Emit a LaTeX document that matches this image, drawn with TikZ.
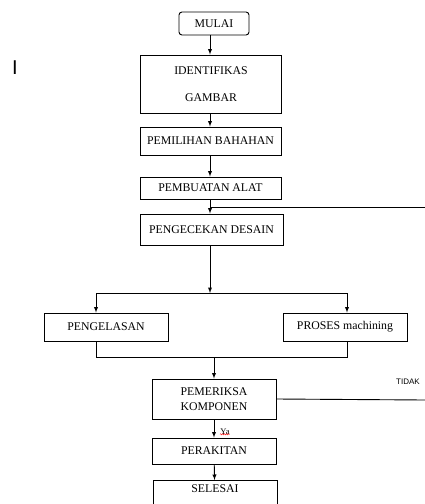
\documentclass[tikz,border=0pt]{standalone}
\usepackage{fontspec}
\setmainfont{Liberation Serif}
\setsansfont{Liberation Sans}
\usetikzlibrary{arrows}
\usetikzlibrary{positioning}
\usetikzlibrary{decorations.pathmorphing}

\begin{document}
\begin{tikzpicture}[x=1pt,y=-1pt,->,>=latex,line width=0.9pt,
  main box/.style={draw,rectangle,inner sep=0pt,align=center,font=\fontsize{11.8}{13}\selectfont},
  start box/.style={main box,rounded corners=3pt}]
  \useasboundingbox (0,0) rectangle (425,504);

  \node[font=\sffamily\fontsize{20}{20}\selectfont] (cursor) at (15,68) {I};

  \node[start box,minimum width=70,minimum height=23] (mulai) at (214,23.5) {MULAI};
  \node[main box,minimum width=141,minimum height=58,font=\fontsize{11.8}{27}\selectfont] (ident) at (211,84) {IDENTIFIKAS\\GAMBAR};
  \node[main box,minimum width=141,minimum height=28] (pilih) at (210.5,141) {PEMILIHAN BAHAHAN};
  \node[main box,minimum width=141,minimum height=22] (buat) at (210.5,188) {PEMBUATAN ALAT};
  \node[main box,minimum width=143,minimum height=31] (cek) at (211.5,229.5) {PENGECEKAN DESAIN};
  \node[main box,minimum width=124,minimum height=28] (las) at (106,327) {PENGELASAN};
  \node[main box,minimum width=124,minimum height=28] (proses) at (345,327) {PROSES machining};
  \node[main box,minimum width=124,minimum height=40,font=\fontsize{11.8}{15}\selectfont] (periksa) at (214,399) {PEMERIKSA\\KOMPONEN};
  \node[main box,minimum width=124,minimum height=26] (rakit) at (214,451) {PERAKITAN};
  \node[main box,minimum width=124,anchor=north,inner ysep=4pt,text depth=30pt] (selesai) at (215,480) {SELESAI};

  \node[font=\sffamily\fontsize{8}{9}\selectfont] (tidak) at (408,382) {TIDAK};
  \node[font=\fontsize{8.5}{9}\selectfont,inner sep=0pt] (ya) at (225,432) {Ya};
  \draw[-,red,line width=0.4pt,decorate,decoration={snake,amplitude=0.6pt,segment length=2pt}]
    ([yshift=1pt]ya.south west) -- ([yshift=1pt]ya.south east);

  \coordinate (spine) at (210,0);
  \coordinate (loopin) at (425,207);
  \coordinate (tidakout) at (425,400);
  \coordinate (split) at (210,293);
  \coordinate (lbr) at (96,293);
  \coordinate (rbr) at (347,293);
  \coordinate (ljoin) at (96,357);
  \coordinate (rjoin) at (347,357);
  \coordinate (join) at (214,357);

  \draw (mulai.south -| spine) -- (ident.north -| spine);
  \draw (ident.south -| spine) -- (pilih.north -| spine);
  \draw (pilih.south -| spine) -- (buat.north -| spine);
  \draw (buat.south -| spine) -- (cek.north -| spine);
  \draw[-] (loopin) -- (loopin -| spine);
  \draw (cek.south -| spine) -- (split);
  \draw[-] (lbr) -- (rbr);
  \draw (lbr) -- (lbr |- las.north);
  \draw (rbr) -- (rbr |- proses.north);
  \draw[-] (las.south -| ljoin) -- (ljoin) -- (rjoin) -- (proses.south -| rjoin);
  \draw (join) -- (periksa);
  \draw[-] (periksa.east) -- (tidakout);
  \draw (periksa) -- (rakit);
  \draw (rakit) -- (selesai);
\end{tikzpicture}
\end{document}
